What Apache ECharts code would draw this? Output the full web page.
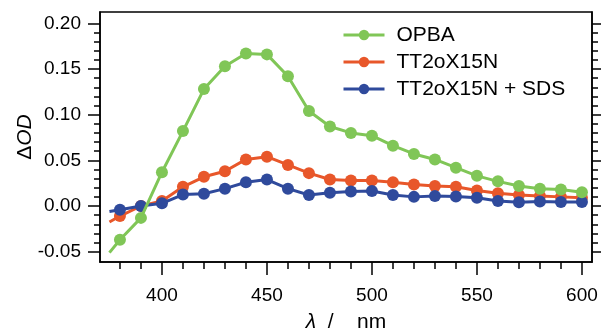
<!DOCTYPE html>
<html>
<head>
<meta charset="utf-8">
<script src="https://cdn.jsdelivr.net/npm/echarts@6/dist/echarts.min.js"></script>
<style>
html,body{margin:0;padding:0;background:#fff;}
#chart{width:602px;height:329px;}
</style>
</head>
<body>
<div id="chart"></div>
<script>
// Data
const wavelengths = [375, 380, 390, 400, 410, 420, 430, 440, 450, 460, 470, 480, 490, 500, 510, 520, 530, 540, 550, 560, 570, 580, 590, 600];
const opba = [-0.051, -0.037, -0.013, 0.037, 0.082, 0.128, 0.153, 0.167, 0.166, 0.142, 0.104, 0.087, 0.080, 0.077, 0.066, 0.057, 0.051, 0.042, 0.033, 0.027, 0.022, 0.019, 0.018, 0.015];
const tt2ox15n = [-0.0175, -0.011, 0.000, 0.0055, 0.021, 0.032, 0.038, 0.051, 0.054, 0.045, 0.036, 0.029, 0.028, 0.028, 0.026, 0.0235, 0.022, 0.021, 0.017, 0.014, 0.012, 0.011, 0.010, 0.009];
const tt2ox15nSds = [-0.006, -0.004, 0.000, 0.003, 0.0125, 0.0135, 0.019, 0.026, 0.029, 0.019, 0.012, 0.0145, 0.016, 0.0165, 0.012, 0.010, 0.011, 0.0105, 0.009, 0.0055, 0.004, 0.005, 0.0045, 0.0045];
const seriesNames = ['OPBA', 'TT2oX15N', 'TT2oX15N + SDS'];

// Ticks
const xMajorTicks = [400, 450, 500, 550, 600];
const xMinorTicks = [380, 390, 400, 410, 420, 430, 440, 450, 460, 470, 480, 490, 500, 510, 520, 530, 540, 550, 560, 570, 580, 590, 600];
const yMajorTicks = [-0.05, 0.00, 0.05, 0.10, 0.15, 0.20];
const yMinorTicks = [-0.05, -0.04, -0.03, -0.02, -0.01, 0.00, 0.01, 0.02, 0.03, 0.04, 0.05, 0.06, 0.07, 0.08, 0.09, 0.10, 0.11, 0.12, 0.13, 0.14, 0.15, 0.16, 0.17, 0.18, 0.19, 0.20];

const X_MIN = 370.5, X_MAX = 604.8, Y_MIN = -0.0613, Y_MAX = 0.2124;
const FONT = 'Liberation Sans, Arial, sans-serif';

function pairs(vals) {
  return wavelengths.map((w, i) => [w, vals[i]]);
}
function mkSeries(name, vals, color, z) {
  return {
    name: name, type: 'line', data: pairs(vals), z: z,
    symbol: 'circle',
    symbolSize: (v) => (v[0] < 380 ? 0 : 12),
    lineStyle: { color: color, width: 3 },
    itemStyle: { color: color },
    emphasis: { disabled: true },
    clip: true
  };
}

const black = '#000';
const chart = echarts.init(document.getElementById('chart'), null, { renderer: 'canvas' });
chart.setOption({
  animation: false,
  backgroundColor: '#fff',
  grid: { left: 100, right: 10, top: 12, bottom: 67, show: true, borderColor: black, borderWidth: 1.5, backgroundColor: 'transparent', outerBoundsMode: 'none' },
  legend: {
    data: seriesNames,
    orient: 'vertical', left: 342, top: 24, padding: 0,
    itemWidth: 41, itemHeight: 13, itemGap: 5,
    lineStyle: { width: 3 },
    textStyle: { fontFamily: FONT, fontSize: 21, color: '#000', lineHeight: 22, padding: [0, 0, 0, 7] }
  },
  xAxis: [
    {
      type: 'value', min: X_MIN, max: X_MAX, position: 'bottom',
      axisLine: { show: true, onZero: false, lineStyle: { color: black, width: 1.5 } },
      axisTick: { show: true, customValues: xMajorTicks, length: 13, lineStyle: { color: black, width: 1.5 } },
      axisLabel: { customValues: xMajorTicks, margin: 24, fontFamily: FONT, fontSize: 19, color: black },
      splitLine: { show: false },
      name: '{i|λ}{n|  /    nm}', nameLocation: 'middle', nameGap: 50, nameMoveOverlap: false,
      nameTextStyle: { rich: { i: { fontFamily: FONT, fontSize: 21, fontStyle: 'italic', color: black }, n: { fontFamily: FONT, fontSize: 21, color: black } } }
    },
    {
      type: 'value', min: X_MIN, max: X_MAX, position: 'bottom',
      axisLine: { show: false, onZero: false },
      axisTick: { show: true, customValues: xMinorTicks, length: 7, lineStyle: { color: black, width: 1.5 } },
      axisLabel: { show: false },
      splitLine: { show: false }
    }
  ],
  yAxis: [
    {
      type: 'value', min: Y_MIN, max: Y_MAX, position: 'left',
      axisLine: { show: true, onZero: false, lineStyle: { color: black, width: 1.5 } },
      axisTick: { show: true, customValues: yMajorTicks, length: 12, lineStyle: { color: black, width: 1.5 } },
      axisLabel: { customValues: yMajorTicks, margin: 19, fontFamily: FONT, fontSize: 19, color: black, formatter: (v) => v.toFixed(2) },
      splitLine: { show: false },
      name: '{d|Δ}{o|OD}', nameLocation: 'middle', nameGap: 64, nameMoveOverlap: false,
      nameTextStyle: { rich: { d: { fontFamily: FONT, fontSize: 21, color: black }, o: { fontFamily: FONT, fontSize: 21, fontStyle: 'italic', color: black } } }
    },
    {
      type: 'value', min: Y_MIN, max: Y_MAX, position: 'left',
      axisLine: { show: false, onZero: false },
      axisTick: { show: true, customValues: yMinorTicks, length: 6, lineStyle: { color: black, width: 1.5 } },
      axisLabel: { show: false }, splitLine: { show: false }
    },
    {
      type: 'value', min: Y_MIN, max: Y_MAX, position: 'right',
      axisLine: { show: true, onZero: false, lineStyle: { color: black, width: 1.5 } },
      axisTick: { show: true, customValues: yMajorTicks, length: 9, lineStyle: { color: black, width: 1.5 } },
      axisLabel: { show: false }, splitLine: { show: false }
    },
    {
      type: 'value', min: Y_MIN, max: Y_MAX, position: 'right',
      axisLine: { show: false, onZero: false },
      axisTick: { show: true, customValues: yMinorTicks, length: 6, lineStyle: { color: black, width: 1.5 } },
      axisLabel: { show: false }, splitLine: { show: false }
    }
  ],
  series: [
    mkSeries(seriesNames[1], tt2ox15n, '#e8572a', 2),
    mkSeries(seriesNames[2], tt2ox15nSds, '#2f4a9c', 3),
    mkSeries(seriesNames[0], opba, '#80c657', 4)
  ]
});
</script>
</body>
</html>
